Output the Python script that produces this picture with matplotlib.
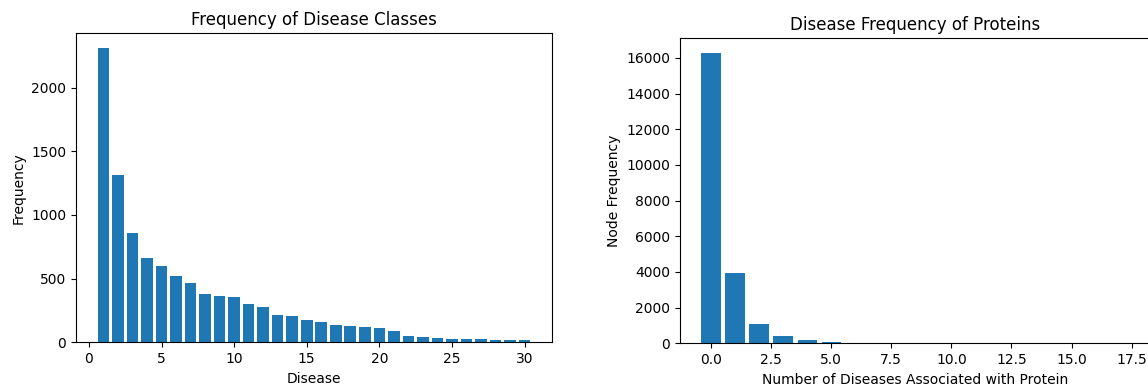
import numpy as np
import matplotlib
matplotlib.use("Agg")
import matplotlib.pyplot as plt

# disease class frequencies (classes 1..30)
disease_ids = list(range(1, 31))
disease_freq = [2313, 1312, 855, 659, 601, 522, 465, 376, 363, 353,
                303, 277, 214, 206, 175, 157, 133, 125, 120, 110,
                89, 47, 39, 34, 28, 26, 24, 20, 18, 15]

# number of diseases associated with a protein -> node count
n_diseases = list(range(0, 18))
node_freq = [16300, 3950, 1090, 430, 190, 90, 45, 20, 12, 8,
             5, 3, 2, 2, 1, 1, 1, 1]

fig = plt.figure(figsize=(11.48, 3.85), dpi=100)

# left panel
ax1 = fig.add_axes([0.0662, 0.1109, 0.4146, 0.8034])
ax1.bar(disease_ids, disease_freq)
ax1.set_title("Frequency of Disease Classes")
ax1.set_xlabel("Disease")
ax1.set_ylabel("Frequency")

# right panel (runs off the right edge, as in the source image)
ax2 = fig.add_axes([0.5923, 0.1083, 0.410, 0.793])
ax2.bar(n_diseases, node_freq)
ax2.set_title("Disease Frequency of Proteins")
ax2.set_xlabel("Number of Diseases Associated with Protein")
ax2.set_ylabel("Node Frequency")

fig.savefig("out.png", dpi=100)
